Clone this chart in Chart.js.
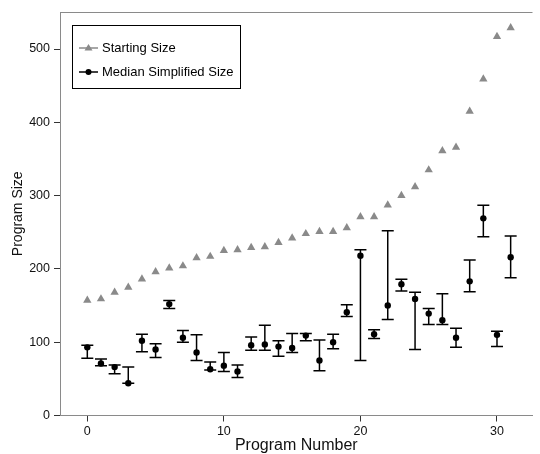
<!DOCTYPE html>
<html>
<head>
<meta charset="utf-8">
<script src="https://cdn.jsdelivr.net/npm/chart.js@4/dist/chart.umd.min.js"></script>
<style>
    html, body { margin: 0; padding: 0; background: #fff; }
    #chart { display: block; }
</style>
</head>
<body>
<canvas id="chart" width="540" height="454"></canvas>
<script>
// values
const programNumbers = [0, 1, 2, 3, 4, 5, 6, 7, 8, 9, 10, 11, 12, 13, 14, 15,
    16, 17, 18, 19, 20, 21, 22, 23, 24, 25, 26, 27, 28, 29, 30, 31];
const startingSize = [157, 159, 168, 175, 186, 196, 201, 204, 215, 217, 225, 226, 229, 230, 236, 242,
    248, 251, 251, 256, 271, 271, 287, 300, 312, 335, 361, 366, 415, 459, 517, 529];
const medianSize = [93, 71, 66, 44, 102, 90, 152, 106, 86, 63, 68, 60, 96, 97, 94, 92,
    109, 75, 100, 141, 218, 111, 150, 179, 159, 139, 130, 106, 183, 269, 110, 216];
const lowerBound = [78, 68, 57, 44, 87, 79, 146, 100, 75, 62, 60, 52, 89, 89, 81, 86,
    102, 61, 91, 135, 75, 105, 131, 170, 90, 124, 124, 93, 169, 244, 94, 188];
const upperBound = [96, 77, 69, 66, 111, 98, 157, 116, 110, 73, 86, 69, 107, 123, 102, 112,
    112, 103, 111, 151, 226, 117, 252, 186, 168, 146, 166, 119, 212, 287, 115, 245];

const xTicks = [0, 10, 20, 30];
const yTicks = [0, 100, 200, 300, 400, 500];
const legendLabels = ["Starting Size", "Median Simplified Size"];

const GREY = "#8a8a8a";
const FONT = "'Liberation Sans', Arial, Helvetica, sans-serif";

// error bars: lo -> hi, then a gap
const errorBars = [];
programNumbers.forEach((x, i) => {
    errorBars.push({ x: x, y: lowerBound[i] });
    errorBars.push({ x: x, y: upperBound[i] });
    errorBars.push({ x: x, y: null });
});

const frameAndLegend = {
    id: "frameAndLegend",
    afterDraw(chart) {
        const ctx = chart.ctx;
        const area = chart.chartArea;
        ctx.save();

        // top frame line
        ctx.strokeStyle = GREY;
        ctx.lineWidth = 1;
        ctx.beginPath();
        ctx.moveTo(area.left, area.top + 0.5);
        ctx.lineTo(area.right, area.top + 0.5);
        ctx.stroke();

        // legend box
        const bx = 72, by = 25, bw = 168, bh = 63;
        ctx.fillStyle = "#fff";
        ctx.fillRect(bx, by, bw, bh);
        ctx.strokeStyle = "#000";
        ctx.strokeRect(bx + 0.5, by + 0.5, bw, bh);

        const rows = [
            { y: 48, color: GREY, style: "triangle" },
            { y: 72, color: "#000", style: "circle" },
        ];
        ctx.font = "13px " + FONT;
        ctx.textBaseline = "middle";
        rows.forEach((row, i) => {
            ctx.strokeStyle = row.color;
            ctx.lineWidth = 1.5;
            ctx.beginPath();
            ctx.moveTo(79, row.y);
            ctx.lineTo(98, row.y);
            ctx.stroke();
            ctx.fillStyle = row.color;
            ctx.beginPath();
            if (row.style === "triangle") {
                ctx.moveTo(88.5, row.y - 4);
                ctx.lineTo(92.5, row.y + 2.5);
                ctx.lineTo(84.5, row.y + 2.5);
                ctx.closePath();
            } else {
                ctx.arc(88.5, row.y, 3, 0, Math.PI * 2);
            }
            ctx.fill();
            ctx.fillStyle = "#000";
            ctx.fillText(legendLabels[i], 102, row.y + 0.5);
        });
        ctx.restore();
    },
};

new Chart(document.getElementById("chart"), {
    type: "scatter",
    data: {
        datasets: [
            {
                label: "error",
                data: errorBars,
                showLine: true,
                spanGaps: false,
                borderColor: "#000",
                borderWidth: 1.5,
                pointStyle: "line",
                pointRadius: 6,
                pointBorderColor: "#000",
                pointBorderWidth: 1.5,
                order: 3,
            },
            {
                label: legendLabels[0],
                data: programNumbers.map((x, i) => ({ x: x, y: startingSize[i] })),
                pointStyle: "triangle",
                pointRadius: 4.8,
                pointBackgroundColor: GREY,
                pointBorderColor: GREY,
                pointBorderWidth: 0,
                order: 2,
            },
            {
                label: legendLabels[1],
                data: programNumbers.map((x, i) => ({ x: x, y: medianSize[i] })),
                pointStyle: "circle",
                pointRadius: 3.2,
                pointBackgroundColor: "#000",
                pointBorderColor: "#000",
                pointBorderWidth: 0,
                order: 1,
            },
        ],
    },
    options: {
        responsive: false,
        animation: false,
        devicePixelRatio: 1,
        layout: { padding: { top: 12, left: 0, right: 0, bottom: 0 } },
        plugins: {
            legend: { display: false },
            tooltip: { enabled: false },
        },
        scales: {
            x: {
                type: "linear",
                min: -2,
                max: 32.6,
                afterBuildTicks: (scale) => {
                    scale.ticks = xTicks.map((v) => ({ value: v }));
                },
                afterFit: (scale) => {
                    scale.height = 38.5;
                },
                grid: {
                    drawOnChartArea: false,
                    drawTicks: true,
                    tickLength: 6,
                    tickColor: "#333",
                },
                border: { display: true, color: GREY, width: 1 },
                ticks: {
                    color: "#111",
                    padding: 3,
                    maxRotation: 0,
                    font: { family: FONT, size: 12.5 },
                },
                title: {
                    display: true,
                    text: "Program Number",
                    color: "#111",
                    padding: 0,
                    font: { family: FONT, size: 16, lineHeight: 1 },
                },
            },
            y: {
                type: "linear",
                min: 0,
                max: 550.5,
                afterBuildTicks: (scale) => {
                    scale.ticks = yTicks.map((v) => ({ value: v }));
                },
                afterFit: (scale) => {
                    scale.width = 60;
                },
                grid: {
                    drawOnChartArea: false,
                    drawTicks: true,
                    tickLength: 6,
                    tickColor: "#333",
                },
                border: { display: true, color: GREY, width: 1 },
                ticks: {
                    color: "#111",
                    padding: 4,
                    font: { family: FONT, size: 12.5 },
                },
                title: {
                    display: true,
                    text: "Program Size",
                    color: "#111",
                    padding: { top: 10, bottom: 0 },
                    font: { family: FONT, size: 14, lineHeight: 1.2 },
                },
            },
        },
    },
    plugins: [frameAndLegend],
});
</script>
</body>
</html>
